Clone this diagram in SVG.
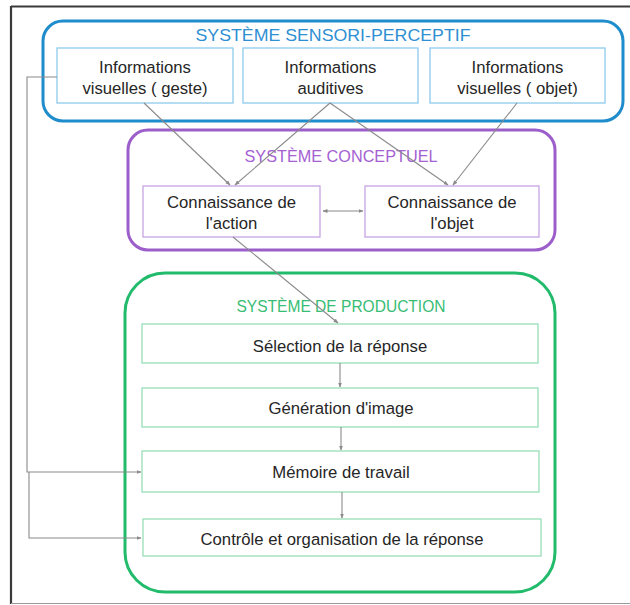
<svg xmlns="http://www.w3.org/2000/svg" width="630" height="605" viewBox="0 0 630 605">
<style>
text{font-family:"Liberation Sans",Arial,sans-serif;fill:#262626;text-anchor:middle}
.lbl{font-size:16.7px}
.ttl{font-size:17px}
.conn{fill:none;stroke:#8a8a8a;stroke-width:1.1}
.blue{fill:none;stroke:#1f8ccc;stroke-width:3}
.bluein{fill:#fff;stroke:#8dcbee;stroke-width:1.3}
.purple{fill:none;stroke:#9c5ecb;stroke-width:3}
.purplein{fill:#fff;stroke:#c6a3e2;stroke-width:1.3}
.green{fill:none;stroke:#21bb6b;stroke-width:3}
.greenin{fill:#fff;stroke:#99dfb9;stroke-width:1.3}
</style>
<defs>
<marker id="ah" viewBox="0 0 10 10" refX="9" refY="5" markerWidth="5" markerHeight="5" orient="auto-start-reverse" markerUnits="userSpaceOnUse">
<path d="M0,1 L10,5 L0,9 z" fill="#8a8a8a"/>
</marker>
</defs>
<rect width="630" height="605" fill="#fff"/>
<g id="frame">
<line x1="11" y1="6.5" x2="630" y2="6.5" stroke="#3a3a3a" stroke-width="2.2"/>
<line x1="11" y1="6" x2="11" y2="604" stroke="#3a3a3a" stroke-width="2.2"/>
<line x1="11" y1="603.5" x2="630" y2="603.5" stroke="#9a9a9a" stroke-width="1.2"/>
</g>
<g id="sys-sensori">
<rect class="blue" x="43" y="21" width="580" height="100" rx="20"/>
<text x="333" y="41" class="ttl" style="fill:#2f8fd3" textLength="275" lengthAdjust="spacingAndGlyphs">SYSTÈME SENSORI-PERCEPTIF</text>
</g>
<g id="info-geste">
<rect class="bluein" x="57" y="48" width="176" height="55"/>
<text class="lbl" x="145" y="73">Informations</text>
<text class="lbl" x="145" y="94">visuelles ( geste)</text>
</g>
<g id="info-auditives">
<rect class="bluein" x="243" y="48" width="175" height="55"/>
<text class="lbl" x="330.5" y="73">Informations</text>
<text class="lbl" x="330.5" y="94">auditives</text>
</g>
<g id="info-objet">
<rect class="bluein" x="430" y="48" width="175" height="55"/>
<text class="lbl" x="517.5" y="73">Informations</text>
<text class="lbl" x="517.5" y="94">visuelles ( objet)</text>
</g>
<g id="sys-conceptuel">
<rect class="purple" x="128" y="130" width="427" height="120" rx="20"/>
<text x="341" y="162" class="ttl" style="fill:#a461d2;font-size:16.5px" textLength="193" lengthAdjust="spacingAndGlyphs">SYSTÈME CONCEPTUEL</text>
</g>
<g id="conn-action">
<rect class="purplein" x="143" y="186" width="177" height="51"/>
<text class="lbl" x="231.5" y="208">Connaissance de</text>
<text class="lbl" x="231.5" y="229">l'action</text>
</g>
<g id="conn-objet">
<rect class="purplein" x="365" y="186" width="174" height="51"/>
<text class="lbl" x="452" y="208">Connaissance de</text>
<text class="lbl" x="452" y="229">l'objet</text>
</g>
<g id="sys-production">
<rect class="green" x="125" y="273" width="430" height="319" rx="40"/>
<text x="341" y="312" class="ttl" style="fill:#37bd74;font-size:16.5px" textLength="209" lengthAdjust="spacingAndGlyphs">SYSTÈME DE PRODUCTION</text>
</g>
<g id="selection">
<rect class="greenin" x="142" y="324" width="396" height="39"/>
<text class="lbl" x="340" y="352">Sélection de la réponse</text>
</g>
<g id="generation">
<rect class="greenin" x="142" y="388" width="396" height="39"/>
<text class="lbl" x="341" y="414">Génération d'image</text>
</g>
<g id="memoire">
<rect class="greenin" x="142" y="451" width="397" height="41"/>
<text class="lbl" x="341" y="478">Mémoire de travail</text>
</g>
<g id="controle">
<rect class="greenin" x="143" y="519" width="398" height="37"/>
<text class="lbl" x="342" y="545">Contrôle et organisation de la réponse</text>
</g>
<g id="connectors">
<path class="conn" d="M57,77 H27 V472 H141" marker-end="url(#ah)"/>
<path class="conn" d="M29,472 V538 H141" marker-end="url(#ah)"/>
<line class="conn" x1="144" y1="103" x2="230" y2="185" marker-end="url(#ah)"/>
<line class="conn" x1="330" y1="103" x2="235" y2="185" marker-end="url(#ah)"/>
<line class="conn" x1="330" y1="103" x2="448" y2="185" marker-end="url(#ah)"/>
<line class="conn" x1="517" y1="103" x2="453" y2="185" marker-end="url(#ah)"/>
<line class="conn" x1="233" y1="237" x2="338" y2="323" marker-end="url(#ah)"/>
<line class="conn" x1="323" y1="211" x2="363" y2="211" marker-start="url(#ah)" marker-end="url(#ah)"/>
<line class="conn" x1="340" y1="363" x2="340" y2="387" marker-end="url(#ah)"/>
<line class="conn" x1="341" y1="427" x2="341" y2="450" marker-end="url(#ah)"/>
<line class="conn" x1="342" y1="492" x2="342" y2="518" marker-end="url(#ah)"/>
</g>
</svg>
